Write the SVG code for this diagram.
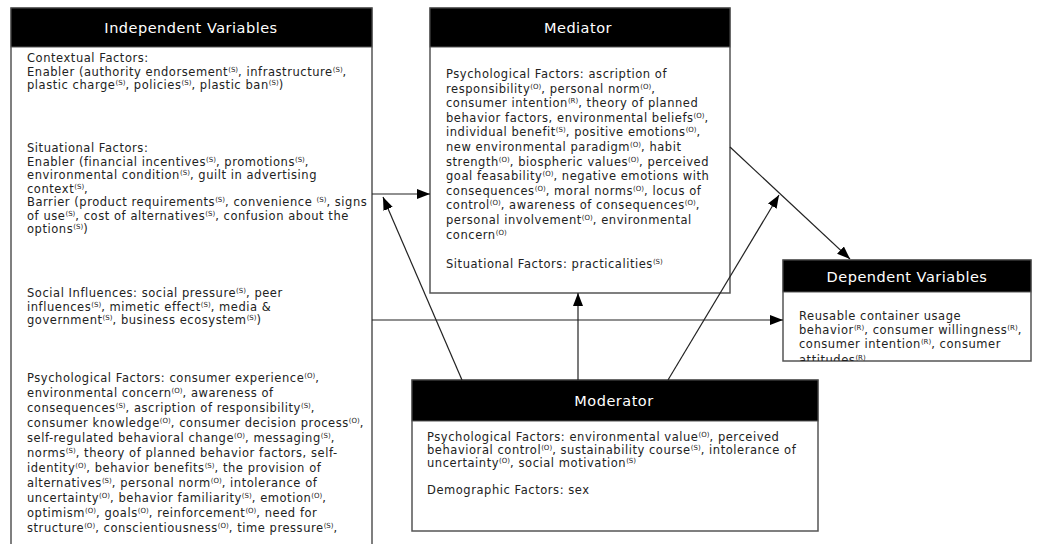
<svg xmlns="http://www.w3.org/2000/svg" width="1037" height="544" viewBox="0 0 1037 544">
<defs>
<style>
.box{fill:#fff;stroke:#555;stroke-width:1.5}
.hdr{fill:#000;stroke:#555;stroke-width:1}
.h{font-family:"DejaVu Sans",sans-serif;font-size:14.5px;letter-spacing:0.5px;fill:#fff;text-anchor:middle}
.t{font-family:"DejaVu Sans",sans-serif;font-size:11.5px;letter-spacing:0.55px;fill:#222}
.s{font-size:7px;letter-spacing:0;baseline-shift:4.5px}
.c{stroke:#222;stroke-width:1.2;fill:none;marker-end:url(#ah)}
</style>
<marker id="ah" markerUnits="userSpaceOnUse" markerWidth="14" markerHeight="12" refX="13" refY="5" orient="auto">
<path d="M0,0 L13,5 L0,10 Z" fill="#000"/>
</marker>
<clipPath id="depclip"><rect x="783" y="292" width="248" height="69"/></clipPath>
</defs>

<g id="independent">
<rect class="box" x="11" y="8" width="361" height="560"/>
<rect class="hdr" x="11" y="8" width="361" height="39"/>
<text class="h" x="191" y="33">Independent Variables</text>
<text class="t">
<tspan x="27" y="62">Contextual Factors:</tspan>
<tspan x="27" y="75.5">Enabler (authority endorsement<tspan class="s">(S)</tspan>, infrastructure<tspan class="s">(S)</tspan>,</tspan>
<tspan x="27" y="89">plastic charge<tspan class="s">(S)</tspan>, policies<tspan class="s">(S)</tspan>, plastic ban<tspan class="s">(S)</tspan>)</tspan>
</text>
<text class="t">
<tspan x="27" y="152">Situational Factors:</tspan>
<tspan x="27" y="165.5">Enabler (financial incentives<tspan class="s">(S)</tspan>,  promotions<tspan class="s">(S)</tspan>,</tspan>
<tspan x="27" y="179">environmental condition<tspan class="s">(S)</tspan>, guilt in advertising</tspan>
<tspan x="27" y="192.5">context<tspan class="s">(S)</tspan>,</tspan>
<tspan x="27" y="206">Barrier (product requirements<tspan class="s">(S)</tspan>, convenience <tspan class="s">(S)</tspan>, signs</tspan>
<tspan x="27" y="219.5">of use<tspan class="s">(S)</tspan>, cost of alternatives<tspan class="s">(S)</tspan>, confusion about the</tspan>
<tspan x="27" y="233">options<tspan class="s">(S)</tspan>)</tspan>
</text>
<text class="t">
<tspan x="27" y="297">Social Influences: social pressure<tspan class="s">(S)</tspan>, peer</tspan>
<tspan x="27" y="310.5">influences<tspan class="s">(S)</tspan>, mimetic effect<tspan class="s">(S)</tspan>, media &amp;</tspan>
<tspan x="27" y="324">government<tspan class="s">(S)</tspan>, business ecosystem<tspan class="s">(S)</tspan>)</tspan>
</text>
<text class="t">
<tspan x="27" y="382">Psychological Factors: consumer experience<tspan class="s">(O)</tspan>,</tspan>
<tspan x="27" y="397">environmental concern<tspan class="s">(O)</tspan>, awareness of</tspan>
<tspan x="27" y="412">consequences<tspan class="s">(S)</tspan>, ascription of responsibility<tspan class="s">(S)</tspan>,</tspan>
<tspan x="27" y="427">consumer knowledge<tspan class="s">(O)</tspan>, consumer decision process<tspan class="s">(O)</tspan>,</tspan>
<tspan x="27" y="442">self-regulated behavioral change<tspan class="s">(O)</tspan>, messaging<tspan class="s">(S)</tspan>,</tspan>
<tspan x="27" y="457">norms<tspan class="s">(S)</tspan>, theory of planned behavior factors, self-</tspan>
<tspan x="27" y="472">identity<tspan class="s">(O)</tspan>, behavior benefits<tspan class="s">(S)</tspan>, the provision of</tspan>
<tspan x="27" y="487">alternatives<tspan class="s">(S)</tspan>, personal norm<tspan class="s">(O)</tspan>, intolerance of</tspan>
<tspan x="27" y="502">uncertainty<tspan class="s">(O)</tspan>, behavior familiarity<tspan class="s">(S)</tspan>, emotion<tspan class="s">(O)</tspan>,</tspan>
<tspan x="27" y="517">optimism<tspan class="s">(O)</tspan>, goals<tspan class="s">(O)</tspan>, reinforcement<tspan class="s">(O)</tspan>, need for</tspan>
<tspan x="27" y="532">structure<tspan class="s">(O)</tspan>, conscientiousness<tspan class="s">(O)</tspan>, time pressure<tspan class="s">(S)</tspan>,</tspan>
</text>
</g>

<g id="mediator">
<rect class="box" x="430" y="8" width="300" height="285"/>
<rect class="hdr" x="430" y="8" width="300" height="39"/>
<text class="h" x="578" y="33">Mediator</text>
<text class="t">
<tspan x="446" y="78">Psychological Factors: ascription of</tspan>
<tspan x="446" y="92.6">responsibility<tspan class="s">(O)</tspan>, personal norm<tspan class="s">(O)</tspan>,</tspan>
<tspan x="446" y="107.2">consumer intention<tspan class="s">(R)</tspan>, theory of planned</tspan>
<tspan x="446" y="121.8">behavior factors, environmental beliefs<tspan class="s">(O)</tspan>,</tspan>
<tspan x="446" y="136.4">individual benefit<tspan class="s">(S)</tspan>, positive emotions<tspan class="s">(O)</tspan>,</tspan>
<tspan x="446" y="151">new environmental paradigm<tspan class="s">(O)</tspan>, habit</tspan>
<tspan x="446" y="165.6">strength<tspan class="s">(O)</tspan>, biospheric values<tspan class="s">(O)</tspan>, perceived</tspan>
<tspan x="446" y="180.2">goal feasability<tspan class="s">(O)</tspan>, negative emotions with</tspan>
<tspan x="446" y="194.8">consequences<tspan class="s">(O)</tspan>, moral norms<tspan class="s">(O)</tspan>, locus of</tspan>
<tspan x="446" y="209.4">control<tspan class="s">(O)</tspan>, awareness of consequences<tspan class="s">(O)</tspan>,</tspan>
<tspan x="446" y="224">personal involvement<tspan class="s">(O)</tspan>, environmental</tspan>
<tspan x="446" y="238.6">concern<tspan class="s">(O)</tspan></tspan>
<tspan x="446" y="268">Situational Factors: practicalities<tspan class="s">(S)</tspan></tspan>
</text>
</g>

<g id="dependent">
<rect class="box" x="783" y="260" width="248" height="101"/>
<rect class="hdr" x="783" y="260" width="248" height="32"/>
<text class="h" x="907" y="282">Dependent Variables</text>
<text class="t" clip-path="url(#depclip)">
<tspan x="799" y="320">Reusable container usage</tspan>
<tspan x="799" y="334">behavior<tspan class="s">(R)</tspan>, consumer willingness<tspan class="s">(R)</tspan>,</tspan>
<tspan x="799" y="348">consumer intention<tspan class="s">(R)</tspan>, consumer</tspan>
<tspan x="799" y="364">attitudes<tspan class="s">(R)</tspan></tspan>
</text>
</g>

<g id="moderator">
<rect class="box" x="412" y="380" width="406" height="151"/>
<rect class="hdr" x="412" y="380" width="406" height="41"/>
<text class="h" x="614" y="406">Moderator</text>
<text class="t">
<tspan x="427" y="441">Psychological Factors: environmental value<tspan class="s">(O)</tspan>, perceived</tspan>
<tspan x="427" y="454">behavioral control<tspan class="s">(O)</tspan>, sustainability course<tspan class="s">(S)</tspan>, intolerance of</tspan>
<tspan x="427" y="467">uncertainty<tspan class="s">(O)</tspan>, social motivation<tspan class="s">(S)</tspan></tspan>
<tspan x="427" y="494">Demographic Factors: sex</tspan>
</text>
</g>

<g id="connectors">
<line class="c" x1="372" y1="194" x2="430" y2="194"/>
<line class="c" x1="372" y1="320" x2="783" y2="320"/>
<line class="c" x1="730" y1="147" x2="850" y2="259"/>
<line class="c" x1="462" y1="380" x2="383" y2="197"/>
<line class="c" x1="578" y1="380" x2="578" y2="293"/>
<line class="c" x1="668" y1="380" x2="779" y2="195"/>
</g>
</svg>
